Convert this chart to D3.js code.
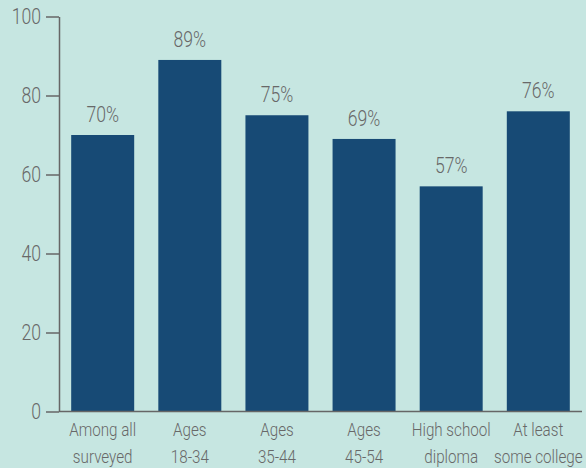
<!DOCTYPE html>
<html>
<head>
<meta charset="utf-8">
<script src="https://cdn.jsdelivr.net/npm/d3@7"></script>
<style>
  html, body { margin: 0; padding: 0; background: #c6e6e1; }
  svg text { font-family: "Roboto", "Noto Sans", sans-serif; fill: #686868; }
</style>
</head>
<body>
<div id="chart"></div>
<script>
// categories (two lines each) and values in percent
const categories = ["Among all|surveyed", "Ages|18-34", "Ages|35-44", "Ages|45-54", "High school|diploma", "At least|some college"];
const values = [70, 89, 75, 69, 57, 76];
const yTicks = [0, 20, 40, 60, 80, 100];

// the original uses a condensed face, so squeeze text horizontally
const squeeze = 0.8;

function drawChart(id) {
  const w = 586;
  const h = 468;

  const svg = d3
    .select(`#${id}`)
    .append("svg")
    .attr("width", w)
    .attr("height", h);

  const data = categories.map((c, i) => ({ key: c, value: values[i] }));

  // band scale for bars
  const xScale = d3
    .scaleBand()
    .domain(categories)
    .range([59, 582])
    .paddingInner(0.277)
    .paddingOuter(0.14);

  const yScale = d3.scaleLinear().domain([0, 100]).range([411.5, 16.5]);
  const cx = (k) => xScale(k) + xScale.bandwidth() / 2;

  // bars
  svg
    .append("g")
    .selectAll("rect")
    .data(data)
    .enter()
    .append("rect")
    .attr("x", (d) => xScale(d.key))
    .attr("y", (d) => yScale(d.value))
    .attr("width", xScale.bandwidth())
    .attr("height", (d) => yScale(0) - yScale(d.value))
    .attr("fill", "#174a75");

  // value labels
  svg
    .append("g")
    .selectAll("text")
    .data(data)
    .enter()
    .append("text")
    .attr("transform", (d) => `translate(${cx(d.key)},${yScale(d.value) - 13}) scale(${squeeze},1)`)
    .attr("text-anchor", "middle")
    .style("font-size", "22px")
    .style("font-weight", 300)
    .text((d) => `${d.value}%`);

  // y axis
  const yAxis = svg
    .append("g")
    .attr("transform", "translate(59,0)")
    .call(d3.axisLeft(yScale).tickValues(yTicks).tickSize(13).tickSizeOuter(0).tickPadding(5));
  yAxis.select(".domain").attr("stroke", "#666").attr("stroke-width", 1.5);
  yAxis.selectAll(".tick line").attr("stroke", "#666").attr("stroke-width", 1.5);
  yAxis
    .selectAll("text")
    .attr("x", -18 / squeeze)
    .attr("transform", `scale(${squeeze},1)`)
    .style("font-size", "22px")
    .style("font-weight", 300)
    .attr("fill", "#686868");

  // x axis line
  svg
    .append("line")
    .attr("x1", 59)
    .attr("x2", 582)
    .attr("y1", yScale(0))
    .attr("y2", yScale(0))
    .attr("stroke", "#666")
    .attr("stroke-width", 1.5);

  // category labels, two lines
  const labels = svg
    .append("g")
    .selectAll("text")
    .data(data)
    .enter()
    .append("text")
    .attr("transform", (d) => `translate(${cx(d.key)},0) scale(${squeeze},1)`)
    .attr("text-anchor", "middle")
    .style("font-size", "19px")
    .style("font-weight", 300);
  labels
    .selectAll("tspan")
    .data((d) => d.key.split("|"))
    .enter()
    .append("tspan")
    .attr("x", 0)
    .attr("y", (d, i) => 436 + i * 27)
    .text((d) => d);
}

document.addEventListener("DOMContentLoaded", function () {
  drawChart("chart");
});
</script>
</body>
</html>
